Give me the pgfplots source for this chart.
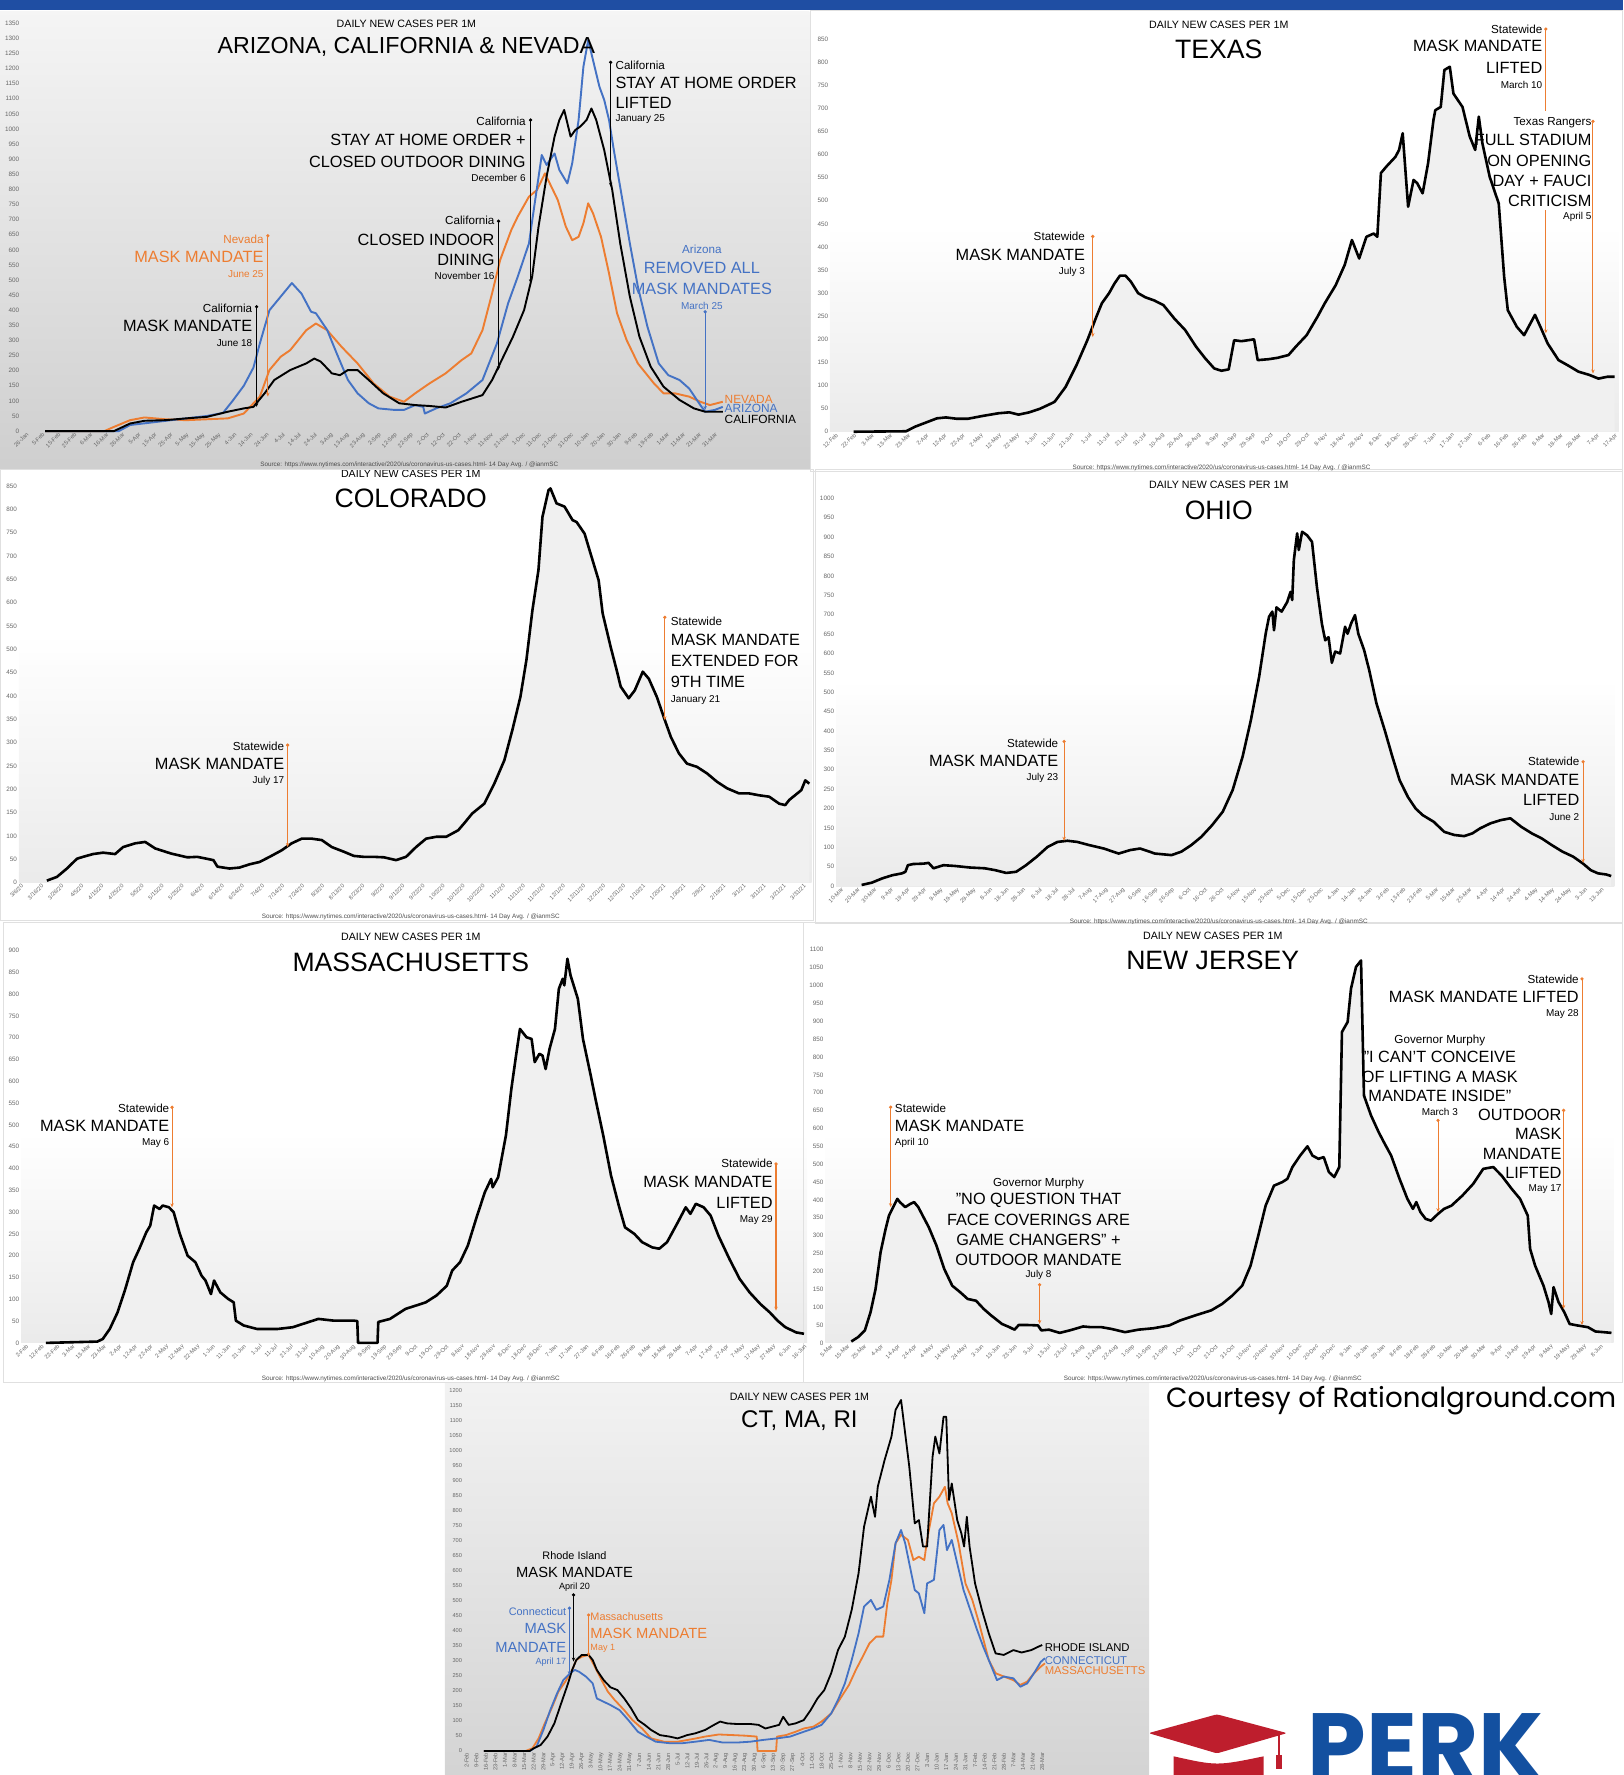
\documentclass[border=0pt]{standalone}
\usepackage{fontspec}
\setmainfont{Liberation Sans}
\newfontfamily\poppins{Poppins}
\usepackage{pgfplots}
\usepackage{pgfplotstable}
\pgfplotsset{compat=1.18}
\usetikzlibrary{arrows.meta}

\definecolor{xorange}{RGB}{237,125,49}
\definecolor{xblue}{RGB}{68,114,196}
\definecolor{topblue}{RGB}{31,78,163}
\definecolor{perkblue}{RGB}{19,80,160}
\definecolor{perkred}{RGB}{190,30,45}

\newcommand\fk{\fontsize{5.6}{6}\selectfont}
\newcommand\fx{\fontsize{5.1}{5.5}\selectfont}
\newcommand\fs{\fontsize{5.6}{6}\selectfont}
\newcommand\fD{\fontsize{9.4}{10}\selectfont}
\newcommand\fTa{\fontsize{20.5}{22}\selectfont}
\newcommand\fT{\fontsize{23.5}{25}\selectfont}
\newcommand\fTc{\fontsize{21.3}{23}\selectfont}
\newcommand\fB{\fontsize{14.4}{16}\selectfont}
\newcommand\fBc{\fontsize{13}{14}\selectfont}
\newcommand\fS{\fontsize{10.3}{11}\selectfont}
\newcommand\fSc{\fontsize{9.6}{10}\selectfont}
\newcommand\fd{\fontsize{8.8}{9}\selectfont}
\newcommand\fdc{\fontsize{8}{9}\selectfont}
\newcommand\fE{\fontsize{10.5}{11}\selectfont}
\newcommand\fEc{\fontsize{10}{11}\selectfont}
\newcommand\src{Source: https://www.nytimes.com/interactive/2020/us/coronavirus-us-cases.html- 14 Day Avg. / @ianmSC}

% ---- panel 1: days from 26-Jan-2020
\pgfplotstableread[row sep=\\]{
d v\\ 12 0\\ 58 0\\ 65 20\\ 81 30\\ 97 40\\ 113 50\\ 123 60\\ 129 100\\ 136 150\\ 142 210\\ 146 290\\ 152 400\\ 159 445\\ 166 490\\ 172 455\\ 178 395\\ 181 390\\ 188 335\\ 194 257\\ 201 169\\ 207 125\\ 214 92\\ 220 75\\ 230 70\\ 236 70\\ 243 86\\ 248 80\\ 249 58\\ 256 75\\ 265 92\\ 275 125\\ 285 169\\ 294 290\\ 301 423\\ 307 511\\ 314 621\\ 317 732\\ 322 914\\ 325 881\\ 330 919\\ 333 864\\ 338 820\\ 341 886\\ 345 1030\\ 348 1206\\ 351 1295\\ 354 1228\\ 358 1140\\ 361 1096\\ 364 1030\\ 367 930\\ 372 776\\ 377 621\\ 382 478\\ 388 345\\ 395 224\\ 401 185\\ 408 169\\ 414 141\\ 421 86\\ 424 64\\ 430 70\\ 435 80\\
}\az
\pgfplotstableread[row sep=\\]{
d v\\ 12 0\\ 49 0\\ 55 14\\ 65 36\\ 74 45\\ 87 39\\ 100 36\\ 113 39\\ 126 42\\ 136 58\\ 146 114\\ 152 202\\ 159 246\\ 165 268\\ 175 334\\ 181 356\\ 188 334\\ 197 279\\ 207 224\\ 217 158\\ 227 114\\ 236 97\\ 243 125\\ 252 158\\ 262 191\\ 272 235\\ 278 257\\ 285 334\\ 291 456\\ 296 566\\ 303 666\\ 307 710\\ 314 776\\ 319 798\\ 324 853\\ 327 820\\ 332 765\\ 337 677\\ 341 632\\ 345 643\\ 348 688\\ 351 754\\ 354 721\\ 359 643\\ 364 522\\ 369 390\\ 375 301\\ 382 224\\ 392 158\\ 398 125\\ 405 125\\ 414 114\\ 421 97\\ 427 86\\ 435 97\\
}\nv
\pgfplotstableread[row sep=\\]{
d v\\ 12 0\\ 55 0\\ 65 25\\ 74 34\\ 87 36\\ 100 42\\ 113 47\\ 126 64\\ 136 75\\ 142 80\\ 149 125\\ 155 169\\ 165 202\\ 175 224\\ 180 240\\ 184 230\\ 191 191\\ 196 185\\ 201 202\\ 207 202\\ 214 169\\ 223 125\\ 233 92\\ 243 86\\ 252 83\\ 262 78\\ 272 97\\ 285 119\\ 291 169\\ 298 246\\ 304 312\\ 311 401\\ 316 511\\ 320 677\\ 325 842\\ 330 975\\ 333 1030\\ 336 1063\\ 340 975\\ 343 997\\ 346 1008\\ 350 1030\\ 353 1068\\ 356 1030\\ 361 930\\ 366 798\\ 371 621\\ 377 445\\ 383 312\\ 390 213\\ 398 147\\ 408 103\\ 417 75\\ 424 64\\ 435 64\\
}\ca
% ---- Texas: days from 12-Feb-2020
\pgfplotstableread[row sep=\\]{
d v\\ 10 0\\ 39 1\\ 44 11\\ 50 20\\ 56 29\\ 61 31\\ 67 28\\ 73 28\\ 81 34\\ 90 40\\ 96 42\\ 101 37\\ 107 42\\ 113 50\\ 119 61\\ 121 65\\ 127 97\\ 133 144\\ 139 198\\ 144 249\\ 147 278\\ 151 300\\ 154 321\\ 157 338\\ 160 338\\ 163 325\\ 167 300\\ 171 291\\ 176 284\\ 181 274\\ 187 245\\ 193 220\\ 199 184\\ 204 159\\ 209 137\\ 213 132\\ 217 135\\ 220 198\\ 224 196\\ 231 200\\ 233 155\\ 239 157\\ 244 160\\ 250 166\\ 254 184\\ 260 209\\ 266 249\\ 270 278\\ 276 317\\ 281 361\\ 285 415\\ 289 375\\ 293 422\\ 297 429\\ 299 422\\ 301 560\\ 304 574\\ 309 595\\ 311 610\\ 313 646\\ 316 487\\ 319 545\\ 321 538\\ 324 516\\ 327 581\\ 330 675\\ 331 696\\ 334 703\\ 336 783\\ 339 790\\ 341 732\\ 346 703\\ 350 639\\ 353 610\\ 355 682\\ 357 624\\ 361 552\\ 366 494\\ 369 335\\ 371 263\\ 376 227\\ 380 209\\ 386 253\\ 389 227\\ 393 191\\ 399 155\\ 404 144\\ 410 130\\ 416 123\\ 421 115\\ 426 119\\ 430 119\\
}\tx
% ---- Colorado: days from 6-Mar-2020
\pgfplotstableread[row sep=\\]{
d v\\ 13 4\\ 18 12\\ 23 30\\ 28 51\\ 31 55\\ 36 61\\ 41 64\\ 47 61\\ 51 76\\ 57 84\\ 62 87\\ 67 73\\ 75 62\\ 83 54\\ 88 55\\ 96 48\\ 98 34\\ 104 30\\ 109 32\\ 114 39\\ 119 44\\ 124 55\\ 130 69\\ 135 84\\ 140 94\\ 145 94\\ 150 91\\ 155 76\\ 161 66\\ 166 57\\ 171 55\\ 176 55\\ 181 54\\ 187 48\\ 192 55\\ 197 76\\ 202 94\\ 207 98\\ 212 98\\ 218 112\\ 221 127\\ 225 148\\ 231 169\\ 236 212\\ 241 262\\ 245 327\\ 249 398\\ 252 477\\ 255 584\\ 258 670\\ 260 784\\ 263 841\\ 264 845\\ 267 813\\ 271 806\\ 275 777\\ 277 773\\ 281 748\\ 284 705\\ 288 648\\ 290 577\\ 294 505\\ 297 455\\ 299 420\\ 303 395\\ 306 412\\ 310 452\\ 313 437\\ 317 398\\ 321 348\\ 324 312\\ 328 277\\ 332 255\\ 337 248\\ 342 234\\ 347 216\\ 352 202\\ 358 191\\ 363 191\\ 368 187\\ 373 184\\ 378 169\\ 381 166\\ 383 177\\ 389 198\\ 391 219\\ 393 212\\
}\co
% ---- Ohio: days from 10-Mar-2020
\pgfplotstableread[row sep=\\]{
d v\\ 12.5 3\\ 18.7 9\\ 25 20\\ 31 28\\ 37 33\\ 39 37\\ 40.5 54\\ 43.7 57\\ 50 58\\ 53 60\\ 56 46\\ 59 50\\ 62 54\\ 69 52\\ 78 48\\ 87 46\\ 93.5 41\\ 100 34\\ 106 37\\ 112 54\\ 118.5 76\\ 125 101\\ 131 114\\ 137 117\\ 143 114\\ 150 106\\ 159 97\\ 168 84\\ 175 93\\ 181 97\\ 190 84\\ 200 80\\ 206 89\\ 212 106\\ 218 127\\ 224.5 157\\ 231 192\\ 237 248\\ 243 334\\ 248 428\\ 253 540\\ 257 652\\ 259 695\\ 261 708\\ 262 660\\ 263.5 719\\ 266.6 708\\ 270 733\\ 272 759\\ 273 738\\ 274 841\\ 276 910\\ 277 867\\ 279 914\\ 282 905\\ 285 888\\ 288 770\\ 291 676\\ 293 634\\ 295 642\\ 297 576\\ 299 605\\ 302 600\\ 305 669\\ 306.5 651\\ 308.7 678\\ 311 699\\ 313 651\\ 316.5 609\\ 319.6 557\\ 324 471\\ 329 402\\ 333.6 334\\ 338 273\\ 343 230\\ 347.7 200\\ 352 183\\ 358.6 166\\ 365 140\\ 371 132\\ 377 129\\ 382 136\\ 386.7 149\\ 393 162\\ 399 170\\ 405 175\\ 411.6 153\\ 418 136\\ 424 123\\ 430 106\\ 436.5 89\\ 443 76\\ 449 58\\ 453.7 41\\ 458 33\\ 463 30\\ 466 26\\
}\oh
% ---- Massachusetts: days from 2-Feb-2020
\pgfplotstableread[row sep=\\]{
d v\\ 13 0\\ 46 3\\ 49.5 9\\ 54 32\\ 59 70\\ 64 124\\ 69 185\\ 73 216\\ 77.5 254\\ 80 269\\ 82.5 315\\ 86 307\\ 88 315\\ 92 311\\ 95 300\\ 99 250\\ 104 200\\ 109 185\\ 113 154\\ 115.5 143\\ 119 112\\ 121 143\\ 125 116\\ 130 101\\ 133.6 93\\ 135 51\\ 140 40\\ 148.5 32\\ 162 32\\ 171.6 36\\ 181 47\\ 188 55\\ 198 51\\ 211 51\\ 213 50\\ 213.5 0\\ 226 0\\ 226.5 48\\ 234 55\\ 244 78\\ 251 86\\ 257 93\\ 264 109\\ 270.5 131\\ 274 166\\ 279 185\\ 284 223\\ 290 292\\ 295 346\\ 299 376\\ 300 357\\ 303.5 380\\ 308.5 476\\ 312 583\\ 315 659\\ 317.5 720\\ 321.7 701\\ 325 697\\ 327 644\\ 330 663\\ 332 659\\ 334 628\\ 336.5 674\\ 340 720\\ 342.5 812\\ 345 835\\ 346 820\\ 348 881\\ 350 843\\ 354.7 789\\ 358 697\\ 363 613\\ 366 560\\ 371 476\\ 376 384\\ 381 315\\ 385 265\\ 391 250\\ 396 231\\ 402.5 219\\ 407 216\\ 412 231\\ 419 277\\ 424 311\\ 427 296\\ 430.5 319\\ 435.5 311\\ 440 292\\ 445 246\\ 452 193\\ 458.6 147\\ 465 116\\ 472 89\\ 478 70\\ 483 51\\ 488 36\\ 495 24\\ 500 21\\
}\ma
% ---- New Jersey: days from 5-Mar-2020
\pgfplotstableread[row sep=\\]{
d v\\ 12.5 4\\ 16.5 16\\ 20.6 35\\ 24 86\\ 27 151\\ 30 254\\ 33 319\\ 35 356\\ 37.5 380\\ 40 403\\ 41.5 394\\ 44.7 380\\ 47.8 389\\ 50 394\\ 52.5 380\\ 55.6 352\\ 58.75 324\\ 63.4 272\\ 68 207\\ 72.8 160\\ 77.5 142\\ 82 123\\ 87 118\\ 91.6 95\\ 96 77\\ 102.5 53\\ 107 44\\ 110 37\\ 112.5 50\\ 118 50\\ 124 49\\ 126 35\\ 130.6 37\\ 137 28\\ 143 35\\ 151 46\\ 155.6 44\\ 162 44\\ 168 39\\ 176 30\\ 184 37\\ 193 41\\ 202.5 49\\ 209 63\\ 218 77\\ 227.5 91\\ 234 109\\ 240 132\\ 246 160\\ 251 216\\ 255.6 300\\ 260 384\\ 265 440\\ 270 450\\ 273 459\\ 276 492\\ 280.6 524\\ 285 550\\ 288 524\\ 291.6 515\\ 294.7 520\\ 297.8 478\\ 301 464\\ 304 492\\ 305.6 870\\ 309 898\\ 311 991\\ 314 1052\\ 317 1070\\ 318.75 692\\ 323 636\\ 327.5 590\\ 330.6 562\\ 335 524\\ 340 459\\ 344.7 403\\ 348 375\\ 350 394\\ 352.5 366\\ 355.6 347\\ 358.75 342\\ 363 361\\ 366.6 375\\ 371 384\\ 377.5 412\\ 384 445\\ 390 487\\ 396 492\\ 401 468\\ 407 431\\ 412 403\\ 416.6 356\\ 418 263\\ 421 216\\ 426 160\\ 429 114\\ 430.6 81\\ 432 156\\ 435 114\\ 438.4 86\\ 441.6 53\\ 446 49\\ 452.5 44\\ 457 32\\ 462 30\\ 466.6 28\\
}\nj
% ---- CT, MA, RI: days from 2-Feb-2020
\pgfplotstableread[row sep=\\]{
d v\\ 12.5 0\\ 46 0\\ 49 9\\ 54 20\\ 59 48\\ 64 92\\ 69 159\\ 74 225\\ 77 270\\ 80 303\\ 84 320\\ 89 320\\ 92 303\\ 95 270\\ 100 236\\ 105 212\\ 110 203\\ 115 175\\ 120 142\\ 125 103\\ 130 87\\ 134.6 70\\ 141 53\\ 148 48\\ 154 42\\ 161 53\\ 167 59\\ 174 70\\ 180.5 87\\ 185 98\\ 190 92\\ 197 90\\ 207 90\\ 213 87\\ 218 75\\ 223 81\\ 228 87\\ 231 114\\ 235 87\\ 240 92\\ 246 103\\ 251 136\\ 256 175\\ 261 203\\ 266 259\\ 271 336\\ 276 381\\ 281 470\\ 286 592\\ 290 747\\ 295 847\\ 298 780\\ 300 880\\ 305 969\\ 310 1047\\ 313 1136\\ 317 1169\\ 320 1058\\ 323 947\\ 327 758\\ 330 769\\ 333 681\\ 336 681\\ 340 980\\ 342 1047\\ 345 991\\ 348 1113\\ 350 1113\\ 352 836\\ 354 891\\ 358 769\\ 361 725\\ 363 681\\ 365 780\\ 367 681\\ 371 558\\ 376 470\\ 381 392\\ 386 325\\ 392 320\\ 399 336\\ 405 328\\ 412 336\\ 417 347\\ 420 353\\
}\ri
\pgfplotstableread[row sep=\\]{
d v\\ 12.5 0\\ 43 0\\ 48 9\\ 52.5 42\\ 57 92\\ 62 142\\ 67 198\\ 72 231\\ 77 270\\ 80 303\\ 84 314\\ 89 320\\ 93.5 281\\ 98.5 236\\ 103 198\\ 108 170\\ 115 136\\ 121 103\\ 128 75\\ 134.6 42\\ 144 31\\ 154 31\\ 164 39\\ 174 48\\ 184 55\\ 194 53\\ 203.5 51\\ 211.7 48\\ 212.3 0\\ 225.8 0\\ 226.5 48\\ 233 53\\ 240 64\\ 246 75\\ 253 81\\ 259 98\\ 266 125\\ 272 170\\ 279 220\\ 284 270\\ 289 314\\ 294 359\\ 299 381\\ 304 381\\ 307 492\\ 310 570\\ 313 692\\ 317 720\\ 322 703\\ 326 636\\ 330 647\\ 334 636\\ 336 703\\ 341 825\\ 345 847\\ 349 880\\ 351 825\\ 354 792\\ 359 692\\ 364 558\\ 369 503\\ 374 425\\ 381 303\\ 386 259\\ 392 248\\ 399 236\\ 404 220\\ 409 231\\ 414 259\\ 419 281\\ 422 292\\
}\mas
\pgfplotstableread[row sep=\\]{
d v\\ 12.5 0\\ 46 0\\ 51 14\\ 56 70\\ 61 136\\ 66 192\\ 70.5 236\\ 75.5 259\\ 79 270\\ 82 264\\ 87 248\\ 92 225\\ 95 175\\ 100 164\\ 105 153\\ 111.6 136\\ 118 103\\ 125 64\\ 131 48\\ 138 31\\ 148 26\\ 157.5 26\\ 167 31\\ 177 37\\ 187 28\\ 197 28\\ 207 31\\ 216.6 37\\ 226.5 42\\ 236 48\\ 246 64\\ 253 75\\ 259 87\\ 266 125\\ 271 170\\ 276 225\\ 281 303\\ 286 392\\ 290 481\\ 295 503\\ 299 470\\ 304 481\\ 308.5 570\\ 313 692\\ 317 736\\ 320 692\\ 323 625\\ 327 536\\ 330 525\\ 334 459\\ 336 558\\ 341 570\\ 345 736\\ 348 753\\ 350.5 669\\ 354 703\\ 358 625\\ 362.6 536\\ 367.5 470\\ 372.5 403\\ 377 347\\ 382 292\\ 387 236\\ 392 248\\ 399 242\\ 404 214\\ 409 225\\ 414 259\\ 419 297\\ 422 309\\
}\ct

\pgfplotsset{
  panel/.style={scale only axis, clip=false, anchor=south west,
    axis x line*=bottom, axis y line*=left, axis line style={draw=none},
    major tick length=0pt, ymin=0, ytick distance=50,
    tick label style={font=\fk, text=black!60},
    yticklabel style={inner sep=1.5pt},
    /pgf/number format/assume math mode=true,
    /pgf/number format/1000 sep={},
    scaled ticks=false,
    every axis plot/.append style={line join=round}},
  r45/.style={xticklabel style={font=\fx, rotate=45, anchor=north east, inner sep=0.5pt}},
}
\tikzset{
  mk/.style={#1, line width=0.9pt, {Circle[length=2.8pt]}-{Stealth[length=3.5pt,width=3pt]}},
  ar/.style={anchor=east, inner sep=0pt},
  al/.style={anchor=west, inner sep=0pt},
  ac/.style={inner sep=0pt},
}

\begin{document}
\begin{tikzpicture}
\path[use as bounding box] (0pt,0pt) rectangle (1434pt,1568pt);
\fill[topblue] (0pt,1559pt) rectangle (1434pt,1568pt);
% backgrounds
\shade[top color=black!4, bottom color=black!19] (0pt,1153pt) rectangle (715pt,1558pt);
\shade[top color=black!5, bottom color=black!17] (393pt,0pt) rectangle (1015pt,346pt);
\shade[top color=white, bottom color=black!8] (733pt,1186.6pt) rectangle (1430pt,1368pt);
\shade[top color=white, bottom color=black!8] (16.6pt,788.4pt) rectangle (717pt,1008pt);
\shade[top color=white, bottom color=black!8] (738.5pt,785.2pt) rectangle (1426pt,968pt);
\shade[top color=white, bottom color=black!8] (18.6pt,381.7pt) rectangle (713pt,568pt);
\shade[top color=white, bottom color=black!8] (729pt,381.7pt) rectangle (1425.5pt,568pt);
\begin{scope}[black!12, line width=0.5pt]
\draw (716pt,1152pt) rectangle (1433.5pt,1558.5pt);
\draw (0.5pt,755pt) rectangle (718pt,1153pt);
\draw (720pt,752pt) rectangle (1433.5pt,1153pt);
\draw (3pt,347pt) rectangle (710pt,753pt);
\draw (710pt,347pt) rectangle (1433.5pt,753pt);
\end{scope}

% ===== Panel 1: Arizona, California & Nevada
\begin{axis}[panel, r45, at={(18.7pt,1187.2pt)}, width=622.6pt, height=360.2pt,
  xmin=-3, xmax=437, ymax=1350, xtick={0,10,...,430},
  xticklabels={26-Jan,5-Feb,15-Feb,25-Feb,6-Mar,16-Mar,26-Mar,5-Apr,15-Apr,25-Apr,5-May,15-May,25-May,4-Jun,14-Jun,24-Jun,4-Jul,14-Jul,24-Jul,3-Aug,13-Aug,23-Aug,2-Sep,12-Sep,22-Sep,2-Oct,12-Oct,22-Oct,1-Nov,11-Nov,21-Nov,1-Dec,11-Dec,21-Dec,31-Dec,10-Jan,20-Jan,30-Jan,9-Feb,19-Feb,1-Mar,11-Mar,21-Mar,31-Mar}]
\addplot[xorange, line width=1.7pt] table {\nv};
\addplot[xblue, line width=1.7pt] table {\az};
\addplot[black, line width=1.7pt] table {\ca};
\draw[mk=black] (144,417) -- (144,80);
\draw[mk=xorange] (151,652) -- (151,114);
\draw[mk=black] (295,700) -- (295,202);
\draw[mk=black] (315,1035) -- (315,490);
\draw[mk=black] (365,1226) -- (365,809);
\draw[mk=xblue] (424,400) -- (424,70);
\end{axis}

% ===== Panel 2: Texas
\begin{axis}[panel, r45, at={(733.2pt,1186.6pt)}, width=696.4pt, height=346.9pt,
  xmin=-3, xmax=432, ymax=850, xtick={0,10,...,430},
  xticklabels={12-Feb,22-Feb,3-Mar,13-Mar,23-Mar,2-Apr,12-Apr,22-Apr,2-May,12-May,22-May,1-Jun,11-Jun,21-Jun,1-Jul,11-Jul,21-Jul,31-Jul,10-Aug,20-Aug,30-Aug,9-Sep,19-Sep,29-Sep,9-Oct,19-Oct,29-Oct,8-Nov,18-Nov,28-Nov,8-Dec,18-Dec,28-Dec,7-Jan,17-Jan,27-Jan,6-Feb,16-Feb,26-Feb,8-Mar,18-Mar,28-Mar,7-Apr,17-Apr}]
\addplot[draw=none, fill=black!6, forget plot] table {\tx} \closedcycle;
\addplot[black, line width=2.3pt] table {\tx};
\draw[mk=xorange] (142,426) -- (142,205);
\draw[xorange, line width=0.9pt, {Circle[length=2.8pt]}-] (392,875) -- (392,695);
\draw[xorange, line width=0.9pt, -{Stealth[length=3.5pt,width=3pt]}] (392,480) -- (392,213);
\draw[mk=xorange] (418,675) -- (418,126);
\end{axis}

% ===== Panel 3: Colorado
\begin{axis}[panel, r45, at={(16.6pt,788.4pt)}, width=700.1pt, height=350.2pt,
  xmin=-1, xmax=394, ymax=850, xtick={0,10,...,390},
  xticklabels={3/6/20,3/16/20,3/26/20,4/5/20,4/15/20,4/25/20,5/5/20,5/15/20,5/25/20,6/4/20,6/14/20,6/24/20,7/4/20,7/14/20,7/24/20,8/3/20,8/13/20,8/23/20,9/2/20,9/12/20,9/22/20,10/2/20,10/12/20,10/22/20,11/1/20,11/11/20,11/21/20,12/1/20,12/11/20,12/21/20,12/31/20,1/10/21,1/20/21,1/30/21,2/9/21,2/19/21,3/1/21,3/11/21,3/21/21,3/31/21}]
\addplot[draw=none, fill=black!6, forget plot] table {\co} \closedcycle;
\addplot[black, line width=2.3pt] table {\co};
\draw[mk=xorange] (133,298) -- (133,76);
\draw[mk=xorange] (321,572) -- (321,348);
\end{axis}

% ===== Panel 4: Ohio
\begin{axis}[panel, r45, at={(738.5pt,785.2pt)}, width=687.7pt, height=342.5pt,
  xmin=-3, xmax=468, ymax=1000, xtick={0,10,...,460},
  xticklabels={10-Mar,20-Mar,30-Mar,9-Apr,19-Apr,29-Apr,9-May,19-May,29-May,8-Jun,18-Jun,28-Jun,8-Jul,18-Jul,28-Jul,7-Aug,17-Aug,27-Aug,6-Sep,16-Sep,26-Sep,6-Oct,16-Oct,26-Oct,5-Nov,15-Nov,25-Nov,5-Dec,15-Dec,25-Dec,4-Jan,14-Jan,24-Jan,3-Feb,13-Feb,23-Feb,5-Mar,15-Mar,25-Mar,4-Apr,14-Apr,24-Apr,4-May,14-May,24-May,3-Jun,13-Jun}]
\addplot[draw=none, fill=black!6, forget plot] table {\oh} \closedcycle;
\addplot[black, line width=2.3pt] table {\oh};
\draw[mk=xorange] (135,377) -- (135,117);
\draw[mk=xorange] (449,325) -- (449,60);
\end{axis}

% ===== Panel 5: Massachusetts
\begin{axis}[panel, r45, at={(18.6pt,381.7pt)}, width=694.4pt, height=346.7pt,
  xmin=-3, xmax=502, ymax=900, xtick={0,10,...,500},
  xticklabels={2-Feb,12-Feb,22-Feb,3-Mar,13-Mar,23-Mar,2-Apr,12-Apr,22-Apr,2-May,12-May,22-May,1-Jun,11-Jun,21-Jun,1-Jul,11-Jul,21-Jul,31-Jul,10-Aug,20-Aug,30-Aug,9-Sep,19-Sep,29-Sep,9-Oct,19-Oct,29-Oct,8-Nov,18-Nov,28-Nov,8-Dec,18-Dec,28-Dec,7-Jan,17-Jan,27-Jan,6-Feb,16-Feb,26-Feb,8-Mar,18-Mar,28-Mar,7-Apr,17-Apr,27-Apr,7-May,17-May,27-May,6-Jun,16-Jun}]
\addplot[draw=none, fill=black!6, forget plot] table {\ma} \closedcycle;
\addplot[black, line width=2.3pt] table {\ma};
\draw[mk=xorange] (94,544) -- (94,311);
\draw[mk=xorange] (482,414) -- (482,74);
\end{axis}

% ===== Panel 6: New Jersey
\begin{axis}[panel, r45, at={(729.1pt,381.7pt)}, width=696.5pt, height=347.3pt,
  xmin=-3, xmax=468, ymax=1100, xtick={0,10,...,460},
  xticklabels={5-Mar,15-Mar,25-Mar,4-Apr,14-Apr,24-Apr,4-May,14-May,24-May,3-Jun,13-Jun,23-Jun,3-Jul,13-Jul,23-Jul,2-Aug,12-Aug,22-Aug,1-Sep,11-Sep,21-Sep,1-Oct,11-Oct,21-Oct,31-Oct,10-Nov,20-Nov,30-Nov,10-Dec,20-Dec,30-Dec,9-Jan,19-Jan,29-Jan,8-Feb,18-Feb,28-Feb,10-Mar,20-Mar,30-Mar,9-Apr,19-Apr,29-Apr,9-May,19-May,29-May,8-Jun}]
\addplot[draw=none, fill=black!6, forget plot] table {\nj} \closedcycle;
\addplot[black, line width=2.3pt] table {\nj};
\draw[mk=xorange] (36,664) -- (36,380);
\draw[mk=xorange] (125,167) -- (125,53);
\draw[mk=xorange] (363,627) -- (363,366);
\draw[mk=xorange] (438,655) -- (438,95);
\draw[mk=xorange] (449,1023) -- (449,50);
\end{axis}

% ===== Panel 7: CT, MA, RI
\begin{axis}[panel, at={(409.8pt,21.2pt)}, width=516.9pt, height=318.3pt,
  xmin=-2, xmax=425, ymax=1200, xtick={0,7,...,420},
  tick label style={font=\fontsize{5}{5}\selectfont},
  xticklabel style={rotate=90, anchor=east, inner sep=1.5pt},
  xticklabels={2-Feb,9-Feb,16-Feb,23-Feb,1-Mar,8-Mar,15-Mar,22-Mar,29-Mar,5-Apr,12-Apr,19-Apr,26-Apr,3-May,10-May,17-May,24-May,31-May,7-Jun,14-Jun,21-Jun,28-Jun,5-Jul,12-Jul,19-Jul,26-Jul,2-Aug,9-Aug,16-Aug,23-Aug,30-Aug,6-Sep,13-Sep,20-Sep,27-Sep,4-Oct,11-Oct,18-Oct,25-Oct,1-Nov,8-Nov,15-Nov,22-Nov,29-Nov,6-Dec,13-Dec,20-Dec,27-Dec,3-Jan,10-Jan,17-Jan,24-Jan,31-Jan,7-Feb,14-Feb,21-Feb,28-Feb,7-Mar,14-Mar,21-Mar,28-Mar}]
\addplot[xorange, line width=1.6pt] table {\mas};
\addplot[xblue, line width=1.6pt] table {\ct};
\addplot[black, line width=1.6pt] table {\ri};
\draw[mk=xblue] (75,481) -- (75,253);
\draw[mk=black] (78,525) -- (78,298);
\draw[mk=xorange] (89,458) -- (89,314);
\end{axis}

% ===== texts, in picture pixels with y downwards
\begin{scope}[x=1pt, y=-1pt, yshift=1568pt]
% panel 1
\node[ac, font=\fD] at (359,21) {DAILY NEW CASES PER 1M};
\node[ac, font=\fTa] at (359,41) {ARIZONA, CALIFORNIA \& NEVADA};
\node[ar, font=\fS] at (223,272) {California};
\node[ar, font=\fB] at (223,288) {MASK MANDATE};
\node[ar, font=\fd] at (223,303) {June 18};
\begin{scope}[xorange]
\node[ar, font=\fS] at (233,211) {Nevada};
\node[ar, font=\fB] at (233,227) {MASK MANDATE};
\node[ar, font=\fd] at (233,242) {June 25};
\end{scope}
\node[ar, font=\fS] at (437,195) {California};
\node[ar, font=\fB] at (437,212) {CLOSED INDOOR};
\node[ar, font=\fB] at (437,230) {DINING};
\node[ar, font=\fd] at (437,244) {November 16};
\node[ar, font=\fS] at (464.5,107.5) {California};
\node[ar, font=\fB] at (464.5,124) {STAY AT HOME ORDER +};
\node[ar, font=\fB] at (464.5,143) {CLOSED OUTDOOR DINING};
\node[ar, font=\fd] at (464.5,157.5) {December 6};
\node[al, font=\fS] at (543.6,58) {California};
\node[al, font=\fB] at (543.6,73.6) {STAY AT HOME ORDER};
\node[al, font=\fB] at (543.6,91) {LIFTED};
\node[al, font=\fd] at (543.6,105) {January 25};
\begin{scope}[xblue]
\node[ac, font=\fS] at (620,220) {Arizona};
\node[ac, font=\fB] at (620,237) {REMOVED ALL};
\node[ac, font=\fB] at (620,255.6) {MASK MANDATES};
\node[ac, font=\fd] at (620,270) {March 25};
\end{scope}
\node[al, font=\fE, xorange] at (640,353) {NEVADA};
\node[al, font=\fE, xblue] at (640,361) {ARIZONA};
\node[al, font=\fE] at (640,370.5) {CALIFORNIA};
\node[ac, font=\fs, black!70] at (361.5,411) {\src};
% panel 2
\node[ac, font=\fD] at (1076.6,22) {DAILY NEW CASES PER 1M};
\node[ac, font=\fT] at (1076.6,44) {TEXAS};
\node[ar, font=\fS] at (958.6,209) {Statewide};
\node[ar, font=\fB] at (958.6,225) {MASK MANDATE};
\node[ar, font=\fd] at (958.6,240) {July 3};
\node[ar, font=\fS] at (1362.6,25.6) {Statewide};
\node[ar, font=\fB] at (1362.6,41) {MASK MANDATE};
\node[ar, font=\fB] at (1362.6,60.4) {LIFTED};
\node[ar, font=\fd] at (1362.6,74.8) {March 10};
\node[ar, font=\fS] at (1406,108.4) {Texas Rangers};
\node[ar, font=\fB] at (1406,123.7) {FULL STADIUM};
\node[ar, font=\fB] at (1406,142) {ON OPENING};
\node[ar, font=\fB] at (1406,160) {DAY + FAUCI};
\node[ar, font=\fB] at (1406,177.6) {CRITICISM};
\node[ar, font=\fd] at (1406,191.4) {April 5};
\node[ac, font=\fs, black!70] at (1079,413) {\src};
% panel 3
\begin{scope}
\clip (0,415.5) rectangle (718,470);
\node[ac, font=\fD] at (362.8,418.2) {DAILY NEW CASES PER 1M};
\end{scope}
\node[ac, font=\fT] at (362.8,440.3) {COLORADO};
\node[ar, font=\fS] at (251.2,659.2) {Statewide};
\node[ar, font=\fB] at (251.2,674.5) {MASK MANDATE};
\node[ar, font=\fd] at (251.2,689.8) {July 17};
\node[al, font=\fS] at (592.4,549.3) {Statewide};
\node[al, font=\fB] at (592.4,565.5) {MASK MANDATE};
\node[al, font=\fB] at (592.4,584) {EXTENDED FOR};
\node[al, font=\fB] at (592.4,602.6) {9TH TIME};
\node[al, font=\fd] at (592.4,618) {January 21};
\node[ac, font=\fs, black!70] at (362.8,810) {\src};
% panel 4
\node[ac, font=\fD] at (1076.6,428.6) {DAILY NEW CASES PER 1M};
\node[ac, font=\fT] at (1076.6,450.6) {OHIO};
\node[ar, font=\fS] at (935,656.8) {Statewide};
\node[ar, font=\fB] at (935,672.4) {MASK MANDATE};
\node[ar, font=\fd] at (935,686.8) {July 23};
\node[ar, font=\fS] at (1395.3,673) {Statewide};
\node[ar, font=\fB] at (1395.3,688.6) {MASK MANDATE};
\node[ar, font=\fB] at (1395.3,706.9) {LIFTED};
\node[ar, font=\fd] at (1395.3,721.6) {June 2};
\begin{scope}
\clip (720,790) rectangle (1434,815.5);
\node[ac, font=\fs, black!70] at (1076.6,814.6) {\src};
\end{scope}
% panel 5
\node[ac, font=\fD] at (362.9,827.9) {DAILY NEW CASES PER 1M};
\node[ac, font=\fT] at (362.9,850) {MASSACHUSETTS};
\node[ar, font=\fS] at (149.7,979.5) {Statewide};
\node[ar, font=\fB] at (149.7,994.8) {MASK MANDATE};
\node[ar, font=\fd] at (149.7,1009.6) {May 6};
\node[ar, font=\fS] at (682.7,1028) {Statewide};
\node[ar, font=\fB] at (682.7,1044.3) {MASK MANDATE};
\node[ar, font=\fB] at (682.7,1062.9) {LIFTED};
\node[ar, font=\fd] at (682.7,1077.6) {May 29};
\node[ac, font=\fs, black!70] at (362.9,1218) {\src};
% panel 6
\node[ac, font=\fD] at (1071.3,827) {DAILY NEW CASES PER 1M};
\node[ac, font=\fT] at (1071.3,848.5) {NEW JERSEY};
\node[al, font=\fS] at (790.4,979) {Statewide};
\node[al, font=\fB] at (790.4,994.8) {MASK MANDATE};
\node[al, font=\fd] at (790.4,1009.6) {April 10};
\node[ac, font=\fS] at (917.4,1045.8) {Governor Murphy};
\node[ac, font=\fB] at (917.4,1060.5) {"NO QUESTION THAT};
\node[ac, font=\fB] at (917.4,1077.6) {FACE COVERINGS ARE};
\node[ac, font=\fB] at (917.4,1095.3) {GAME CHANGERS" +};
\node[ac, font=\fB] at (917.4,1112.6) {OUTDOOR MANDATE};
\node[ac, font=\fd] at (917.4,1126.2) {July 8};
\node[ac, font=\fS] at (1271.9,919.1) {Governor Murphy};
\node[ac, font=\fB] at (1271.9,933.9) {"I CAN'T CONCEIVE};
\node[ac, font=\fB] at (1271.9,951) {OF LIFTING A MASK};
\node[ac, font=\fB] at (1271.9,968.3) {MANDATE INSIDE"};
\node[ac, font=\fd] at (1271.9,982.5) {March 3};
\node[ar, font=\fB] at (1379.5,984.8) {OUTDOOR};
\node[ar, font=\fB] at (1379.5,1001.9) {MASK};
\node[ar, font=\fB] at (1379.5,1019.3) {MANDATE};
\node[ar, font=\fB] at (1379.5,1036.4) {LIFTED};
\node[ar, font=\fd] at (1379.5,1050.2) {May 17};
\node[ar, font=\fS] at (1394.8,865.3) {Statewide};
\node[ar, font=\fB] at (1394.8,880.9) {MASK MANDATE LIFTED};
\node[ar, font=\fd] at (1394.8,895.6) {May 28};
\node[ac, font=\fs, black!70] at (1071.3,1218) {\src};
% panel 7
\node[ac, font=\fD] at (706.2,1233.8) {DAILY NEW CASES PER 1M};
\node[ac, font=\fTc] at (706.2,1255) {CT, MA, RI};
\node[ac, font=\fSc] at (507.5,1374.6) {Rhode Island};
\node[ac, font=\fBc] at (507.5,1389.3) {MASK MANDATE};
\node[ac, font=\fdc] at (507.5,1402.2) {April 20};
\begin{scope}[xblue]
\node[ar, font=\fSc] at (500.4,1423.4) {Connecticut};
\node[ar, font=\fBc] at (500.4,1438.5) {MASK};
\node[ar, font=\fBc] at (500.4,1455.2) {MANDATE};
\node[ar, font=\fdc] at (500.4,1468) {April 17};
\end{scope}
\begin{scope}[xorange]
\node[al, font=\fSc] at (521.4,1428.2) {Massachusetts};
\node[al, font=\fBc] at (521.4,1442.9) {MASK MANDATE};
\node[al, font=\fdc] at (521.4,1456) {May 1};
\end{scope}
\node[al, font=\fEc] at (922.7,1455.5) {RHODE ISLAND};
\node[al, font=\fEc, xblue] at (922.7,1467) {CONNECTICUT};
\node[al, font=\fEc, xorange] at (922.7,1475.9) {MASSACHUSETTS};
% credit and logo
\node[al, font=\poppins\fontsize{24.5}{26}\selectfont] at (1030,1237) {Courtesy of Rationalground.com};
\fill[perkred, rounded corners=2pt] (1014.6,1531) -- (1075,1514.4) -- (1136.9,1531) -- (1075,1548.9) -- cycle;
\fill[perkred] (1036.7,1551.5) .. controls (1075,1560) .. (1116.3,1551.5) -- (1116.3,1569) -- (1036.7,1569) -- cycle;
\draw[perkred, line width=1.3pt] (1130,1531) -- (1130,1552);
\fill[perkred] (1127.3,1550) rectangle (1132.7,1563);
\node[anchor=base west, inner sep=0pt, text=perkblue, font=\poppins\bfseries\fontsize{83}{83}\selectfont] at (1155,1572) {PERK};
\end{scope}
\end{tikzpicture}
\end{document}
